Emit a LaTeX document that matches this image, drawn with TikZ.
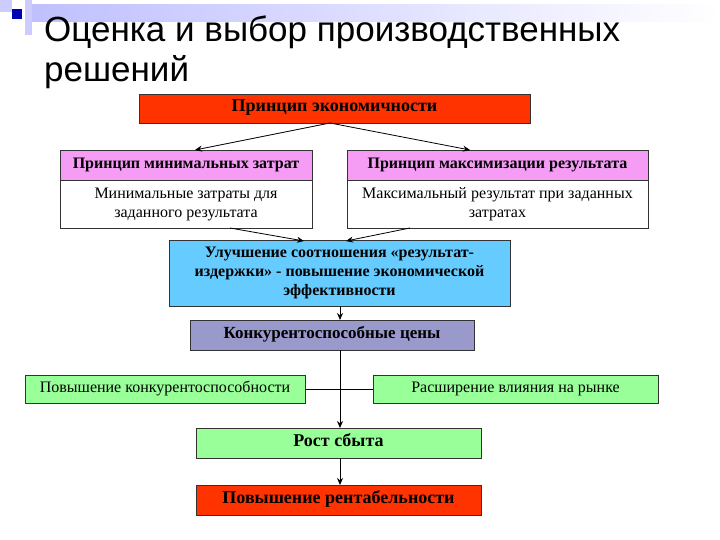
\documentclass[tikz,border=0pt]{standalone}
\usepackage{fontspec}
\setmainfont{Liberation Serif}
\newfontfamily\titlefont{Liberation Sans}
\begin{document}
\begin{tikzpicture}[x=1pt,y=-1pt,
  bx/.style={draw=black!80,line width=0.8pt,inner sep=0pt,align=center,font=\fontsize{16}{19}\selectfont},
  arr/.style={-{Stealth[length=7pt,width=6pt]},line width=0.8pt}]
\usetikzlibrary{arrows.meta}
\useasboundingbox (0,0) rectangle (720,540);
\fill[white] (0,0) rectangle (720,540);
\shade[left color=blue!25,right color=white] (30,5) rectangle (720,22);
\fill[blue!20] (0,0) rectangle (12,12);
\fill[blue!20] (25,0) rectangle (32,35);
\fill[blue!70!black] (12,9) rectangle (22,19);
\node[anchor=base west,font=\titlefont\fontsize{35}{40}\selectfont,inner sep=0pt] (t1) at (44,42) {Оценка и выбор производственных};
\node[anchor=base west,font=\titlefont\fontsize{35}{40}\selectfont,inner sep=0pt] (t2) at (44,82) {решений};
\definecolor{rd}{HTML}{FF3300}
\definecolor{pk}{HTML}{F59CF5}
\definecolor{bl}{HTML}{66CCFF}
\definecolor{pu}{HTML}{9999CC}
\definecolor{gr}{HTML}{99FF99}
\tikzset{b16/.style={font=\bfseries\fontsize{16}{19}\selectfont},one/.style={text height=11pt,text depth=4pt}}
\node[bx,one,fill=rd,minimum width=391,minimum height=29,font=\bfseries\fontsize{18}{20}\selectfont] (top) at (334.5,108.5) {Принцип экономичности};
\node[bx,one,fill=pk,minimum width=252,minimum height=30,b16] (pl) at (186,165) {Принцип минимальных затрат};
\node[bx,fill=white,minimum width=252,minimum height=48] (wl) at (186,204) {Минимальные затраты для\\заданного результата};
\node[bx,one,fill=pk,minimum width=301,minimum height=30,b16] (pr) at (497.5,165) {Принцип максимизации результата};
\node[bx,fill=white,minimum width=301,minimum height=48] (wr) at (497.5,204) {Максимальный результат при заданных\\затратах};
\node[bx,fill=bl,minimum width=341,minimum height=66,font=\bfseries\fontsize{16}{19}\selectfont] (blue) at (339.5,273) {Улучшение соотношения «результат-\\издержки» - повышение экономической\\эффективности};
\node[bx,one,fill=pu,minimum width=284,minimum height=30,font=\bfseries\fontsize{17}{19}\selectfont] (pu) at (332,335) {Конкурентоспособные цены};
\node[bx,one,fill=gr,minimum width=280,minimum height=28] (gl) at (165,389) {Повышение конкурентоспособности};
\node[bx,one,fill=gr,minimum width=285,minimum height=28] (gr) at (515.5,389) {Расширение влияния на рынке};
\node[bx,one,fill=gr,minimum width=285,minimum height=30,font=\bfseries\fontsize{18}{20}\selectfont] (rs) at (338.5,443) {Рост сбыта};
\node[bx,one,fill=rd,minimum width=285,minimum height=30,font=\bfseries\fontsize{18}{20}\selectfont] (pr2) at (338.5,500) {Повышение рентабельности};
\coordinate (c1) at (330,123);
\draw[arr] (c1) -- (195,150);
\draw[arr] (c1) -- (470,150);
\draw[arr] (230,228) -- (304,241);
\draw[arr] (410,228) -- (346,241);
\draw[arr] (340,306) -- (340,320);
\draw[arr] (340,350) -- (340,428);
\draw[line width=0.8pt] (gl.east) -- (gr.west);
\draw[arr] (340,458) -- (340,485);
\end{tikzpicture}
\end{document}
